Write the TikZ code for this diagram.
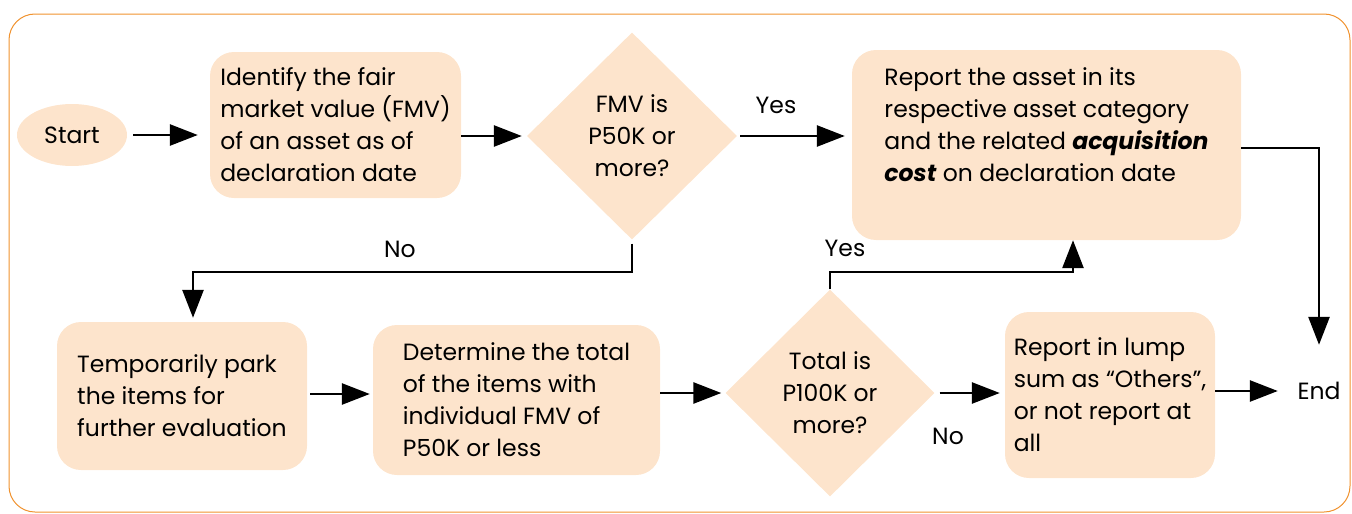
\documentclass[tikz,border=0pt]{standalone}
\usepackage{fontspec}
\setmainfont{Poppins}
\usetikzlibrary{shapes.geometric,arrows.meta}
\definecolor{peach}{HTML}{FDE4CC}
\definecolor{frameorange}{HTML}{F0922E}
\tikzset{
  txt/.style={font=\fontsize{23.5}{32}\selectfont},
  box/.style={txt, draw=none, fill=peach, rounded corners=24pt, align=left, inner sep=0pt},
  decision/.style={txt, draw=none, fill=peach, diamond, align=center, inner sep=0pt},
  lbl/.style={txt, inner sep=0pt},
  arr/.style={line width=2.7pt, -{Triangle[length=28pt,width=21pt]}}
}
\begin{document}
\begin{tikzpicture}[x=1pt,y=-1pt]
\useasboundingbox (0,0) rectangle (1352,514);
% outer frame
\draw[frameorange, line width=1pt, rounded corners=26pt] (9,14) rectangle (1350,512);

% first row
\node[txt, ellipse, fill=peach, minimum width=110pt, minimum height=62pt, inner sep=0pt]
  (start) at (72,135) {Start};
\node[box, minimum width=251pt, minimum height=146pt] (identify) at (335.5,125)
  {Identify the fair\\market value (FMV)\\of an asset as of\\declaration date};
\node[decision, minimum width=210pt, minimum height=207pt] (fmv) at (632,136)
  {FMV is\\P50K or\\more?};
\node[box, minimum width=389pt, minimum height=190pt] (report) at (1046.5,145)
  {Report the asset in its\\respective asset category\\and the related \textbf{\textit{acquisition}}\\\textbf{\textit{cost}} on declaration date\\[8pt]};

% second row
\node[box, minimum width=250pt, minimum height=148pt] (park) at (182,396)
  {Temporarily park\\the items for\\further evaluation};
\node[box, minimum width=287pt, minimum height=150pt] (total) at (516.5,400)
  {Determine the total\\of the items with\\individual FMV of\\P50K or less};
\node[decision, minimum width=209pt, minimum height=207pt] (hundred) at (830,393)
  {Total is\\P100K or\\more?};
\node[box, minimum width=210pt, minimum height=166pt] (lump) at (1110,395)
  {Report in lump\\sum as “Others”,\\or not report at\\all};
\node[lbl, minimum width=82pt, minimum height=92pt] (end) at (1319,391) {End};

% connectors
\draw[arr, shorten <=6pt, shorten >=12pt] (start.east) -- (start.east -| identify.west);
\draw[arr, shorten >=5pt] (identify.east |- fmv) -- (fmv.west);
\draw[arr, shorten <=3pt, shorten >=7pt] (fmv.east) -- (fmv.east -| report.west);
\draw[arr, shorten <=4pt, shorten >=4pt] (fmv.south) |- (193,272) -- (193,272 |- park.north);
\draw[arr, shorten <=3pt, shorten >=3pt] (park.east |- 0,394) -- (total.west |- 0,394);
\draw[arr, shorten >=4pt] (total.east |- hundred) -- (hundred.west);
\draw[arr, shorten <=5pt, shorten >=5pt] (hundred.east) -- (hundred.east -| lump.west);
\draw[arr] (lump.east |- end) -- (end.west);
\draw[arr] (hundred.north) |- (1073,272) -- (1073,272 |- report.south);
\draw[arr] (report.east |- 0,148) -| (end.north);

% branch labels
\node[lbl] (yes1) at (776,105) {Yes};
\node[lbl] (no1) at (400,249) {No};
\node[lbl] (yes2) at (845,248) {Yes};
\node[lbl] (no2) at (948,436) {No};
\end{tikzpicture}
\end{document}
